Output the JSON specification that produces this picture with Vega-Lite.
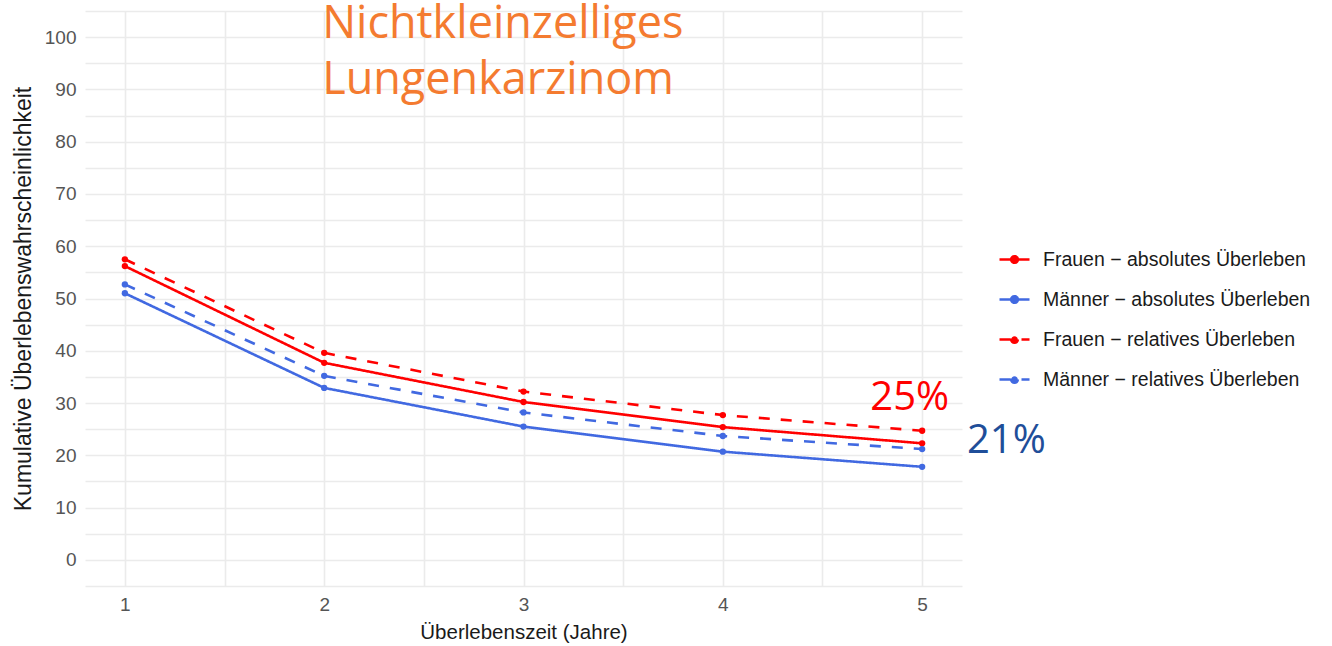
{
  "$schema": "https://vega.github.io/schema/vega-lite/v6.json",
  "autosize": {"type": "none"},
  "padding": {"left": 85, "top": 11, "right": 370, "bottom": 60},
  "width": 877,
  "height": 575,
  "background": "white",
  "config": {"view": {"stroke": null}},
  "encoding": {
    "x": {"field": "jahr", "type": "quantitative", "scale": {"domain": [0.8, 5.2], "nice": false, "zero": false},
      "axis": {"values": [1, 1.5, 2, 2.5, 3, 3.5, 4, 4.5, 5], "labelExpr": "datum.value % 1 == 0 ? format(datum.value, 'd') : ''", "labelOverlap": false,
        "grid": true, "gridColor": "#ebebeb", "gridWidth": 1.6, "domain": false, "ticks": false,
        "labelFont": "Liberation Sans", "labelFontSize": 19, "labelColor": "#555555", "labelPadding": 9,
        "title": "Überlebenszeit (Jahre)", "titleFont": "Liberation Sans", "titleFontSize": 20.5, "titleFontWeight": "normal", "titleColor": "#1a1a1a", "titlePadding": 8}},
    "y": {"field": "wert", "type": "quantitative", "scale": {"domain": [-5, 105], "nice": false, "zero": false},
      "axis": {"values": [-5, 0, 5, 10, 15, 20, 25, 30, 35, 40, 45, 50, 55, 60, 65, 70, 75, 80, 85, 90, 95, 100, 105], "labelExpr": "datum.value % 10 == 0 ? format(datum.value, 'd') : ''", "labelOverlap": false,
        "grid": true, "gridColor": "#ebebeb", "gridWidth": 1.6, "domain": false, "ticks": false,
        "labelFont": "Liberation Sans", "labelFontSize": 19, "labelColor": "#555555", "labelPadding": 9,
        "title": "Kumulative Überlebenswahrscheinlichkeit", "titleFont": "Liberation Sans", "titleFontSize": 23, "titleFontWeight": "normal", "titleColor": "#1a1a1a", "titlePadding": 9}}
  },
  "layer": [
    {
      "data": {"values": [
        {"jahr": 1, "wert": 56.2, "serie": "Frauen − absolutes Überleben"},
        {"jahr": 2, "wert": 37.7, "serie": "Frauen − absolutes Überleben"},
        {"jahr": 3, "wert": 30.2, "serie": "Frauen − absolutes Überleben"},
        {"jahr": 4, "wert": 25.4, "serie": "Frauen − absolutes Überleben"},
        {"jahr": 5, "wert": 22.3, "serie": "Frauen − absolutes Überleben"},
        {"jahr": 1, "wert": 51.0, "serie": "Männer − absolutes Überleben"},
        {"jahr": 2, "wert": 32.9, "serie": "Männer − absolutes Überleben"},
        {"jahr": 3, "wert": 25.5, "serie": "Männer − absolutes Überleben"},
        {"jahr": 4, "wert": 20.7, "serie": "Männer − absolutes Überleben"},
        {"jahr": 5, "wert": 17.8, "serie": "Männer − absolutes Überleben"},
        {"jahr": 1, "wert": 57.5, "serie": "Frauen − relatives Überleben"},
        {"jahr": 2, "wert": 39.6, "serie": "Frauen − relatives Überleben"},
        {"jahr": 3, "wert": 32.2, "serie": "Frauen − relatives Überleben"},
        {"jahr": 4, "wert": 27.7, "serie": "Frauen − relatives Überleben"},
        {"jahr": 5, "wert": 24.7, "serie": "Frauen − relatives Überleben"},
        {"jahr": 1, "wert": 52.7, "serie": "Männer − relatives Überleben"},
        {"jahr": 2, "wert": 35.2, "serie": "Männer − relatives Überleben"},
        {"jahr": 3, "wert": 28.2, "serie": "Männer − relatives Überleben"},
        {"jahr": 4, "wert": 23.7, "serie": "Männer − relatives Überleben"},
        {"jahr": 5, "wert": 21.2, "serie": "Männer − relatives Überleben"}
      ]},
      "layer": [
        {
          "mark": {"type": "line", "strokeWidth": 2.6},
          "encoding": {
            "color": {"field": "serie", "type": "nominal",
              "scale": {"domain": ["Frauen − absolutes Überleben", "Männer − absolutes Überleben", "Frauen − relatives Überleben", "Männer − relatives Überleben"], "range": ["#ff0000", "#4169e1", "#ff0000", "#4169e1"]},
              "legend": {"title": null, "orient": "none", "legendX": 913, "legendY": 232, "labelFont": "Liberation Sans", "labelFontSize": 19.5, "labelColor": "#1a1a1a", "labelLimit": 400, "rowPadding": 14, "labelOffset": 12, "symbolType": "M-1,0H1M0.22,0A0.22,0.22,0,1,1,-0.22,0A0.22,0.22,0,1,1,0.22,0", "symbolSize": 900, "symbolStrokeWidth": 2.6,
                "encode": {"symbols": {"update": {"fill": {"scale": "color", "field": "value"}}}}}},
            "strokeDash": {"field": "serie", "type": "nominal",
              "scale": {"domain": ["Frauen − absolutes Überleben", "Männer − absolutes Überleben", "Frauen − relatives Überleben", "Männer − relatives Überleben"], "range": [[1, 0], [1, 0], [11, 11], [11, 11]]},
              "legend": {"title": null, "orient": "none", "legendX": 913, "legendY": 232, "labelFont": "Liberation Sans", "labelFontSize": 19.5, "labelColor": "#1a1a1a", "labelLimit": 400, "rowPadding": 14, "labelOffset": 12, "symbolType": "M-1,0H1M0.22,0A0.22,0.22,0,1,1,-0.22,0A0.22,0.22,0,1,1,0.22,0", "symbolSize": 900, "symbolStrokeWidth": 2.6}}
          }
        },
        {
          "mark": {"type": "point", "filled": true, "size": 40, "opacity": 1},
          "encoding": {
            "color": {"field": "serie", "type": "nominal"}
          }
        }
      ]
    },
    {
      "data": {"values": [
        {"jahr": 1.99, "wert": 99.9, "text": "Nichtkleinzelliges"},
        {"jahr": 1.99, "wert": 89.2, "text": "Lungenkarzinom"}
      ]},
      "mark": {"type": "text", "align": "left", "baseline": "alphabetic", "font": "Open Sans", "fontSize": 45, "color": "#f47b30"},
      "encoding": {"text": {"field": "text"}}
    },
    {
      "data": {"values": [{"jahr": 4.74, "wert": 28.7, "text": "25%"}]},
      "mark": {"type": "text", "align": "left", "baseline": "alphabetic", "font": "Open Sans", "fontSize": 40, "color": "#ff0000"},
      "encoding": {"text": {"field": "text"}}
    },
    {
      "data": {"values": [{"jahr": 5.225, "wert": 20.4, "text": "21%"}]},
      "mark": {"type": "text", "align": "left", "baseline": "alphabetic", "font": "Open Sans", "fontSize": 40, "color": "#1f4e99"},
      "encoding": {"text": {"field": "text"}}
    }
  ]
}
